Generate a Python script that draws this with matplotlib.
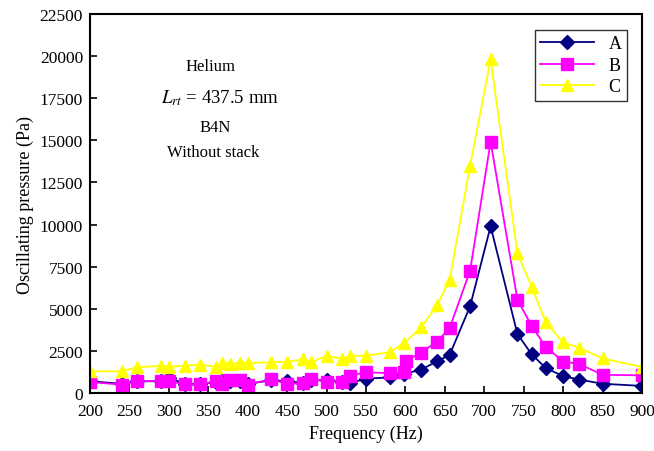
import matplotlib
matplotlib.use("Agg")
import matplotlib.pyplot as plt

# data
freq = [200, 240, 260, 290, 300, 320, 340, 360, 368, 378, 390, 400, 430, 450,
        470, 480, 500, 520, 530, 550, 580, 598, 620, 640, 656, 682, 708, 742,
        760, 778, 800, 820, 850, 900]
freq_b = [200, 240, 260, 290, 300, 320, 340, 360, 368, 378, 390, 400, 430, 450,
          470, 480, 500, 520, 530, 550, 580, 598, 601, 620, 640, 656, 682, 708,
          742, 760, 778, 800, 820, 850, 900]

press_a = [700, 550, 700, 700, 900, 550, 550, 650, 700, 700, 700, 550, 750, 700,
           600, 800, 750, 650, 600, 850, 930, 1130, 1390, 1880, 2260, 5150, 9900,
           3500, 2300, 1480, 1000, 800, 550, 420]
press_b = [650, 500, 700, 700, 700, 520, 520, 700, 550, 750, 750, 500, 820, 520,
           600, 850, 680, 680, 1030, 1230, 1180, 1230, 1920, 2400, 3050, 3850,
           7260, 14920, 5550, 3980, 2730, 1870, 1730, 1080, 1050]
press_c = [1290, 1290, 1525, 1620, 1560, 1620, 1680, 1560, 1800, 1720, 1800, 1780,
           1820, 1850, 2000, 1820, 2200, 2030, 2200, 2220, 2415, 2950, 3900, 5200,
           6700, 13500, 19800, 8300, 6300, 4200, 3000, 2700, 2050, 1550]

plt.rcParams['font.family'] = ['Liberation Serif', 'DejaVu Serif']
plt.rcParams['mathtext.fontset'] = 'stix'

fig = plt.figure(figsize=(6.54, 4.52), dpi=100)
ax = fig.add_axes([0.1376, 0.1283, 0.8441, 0.8385])

ax.plot(freq, press_a, color='#000080', lw=1.3, marker='D', ms=7, label='A')
ax.plot(freq_b, press_b, color='#FF00FF', lw=1.3, marker='s', ms=8, label='B')
ax.plot(freq, press_c, color='#FFFF00', lw=1.3, marker='^', ms=9, label='C')

ax.set_xlim(200, 900)
ax.set_ylim(0, 22500)
ax.set_xticks(range(200, 901, 50))
ax.set_yticks(range(0, 22501, 2500))
ax.tick_params(direction='in', length=5, width=1.2, labelsize=12.5, top=False, right=False)
ax.tick_params(axis='x', pad=7)
ax.tick_params(axis='y', pad=5)
for s in ax.spines.values():
    s.set_linewidth(1.5)

ax.set_xlabel('Frequency (Hz)', fontsize=13, labelpad=4)
ax.set_ylabel('Oscillating pressure (Pa)', fontsize=13)

# annotation block
ax.text(0.218, 0.863, 'Helium', transform=ax.transAxes, ha='center', va='center', fontsize=12)
ax.text(0.236, 0.781, r'$L_{rt}$ = 437.5 mm', transform=ax.transAxes, ha='center', va='center', fontsize=13.5)
ax.text(0.227, 0.702, 'B4N', transform=ax.transAxes, ha='center', va='center', fontsize=12)
ax.text(0.223, 0.636, 'Without stack', transform=ax.transAxes, ha='center', va='center', fontsize=12)

leg = ax.legend(loc='upper right', bbox_to_anchor=(0.973, 0.958), borderaxespad=0,
                fancybox=False, edgecolor='black', fontsize=13, handlelength=3,
                labelspacing=0.25, borderpad=0.3)
leg.get_frame().set_linewidth(1.0)

fig.savefig('out.png', dpi=100)
